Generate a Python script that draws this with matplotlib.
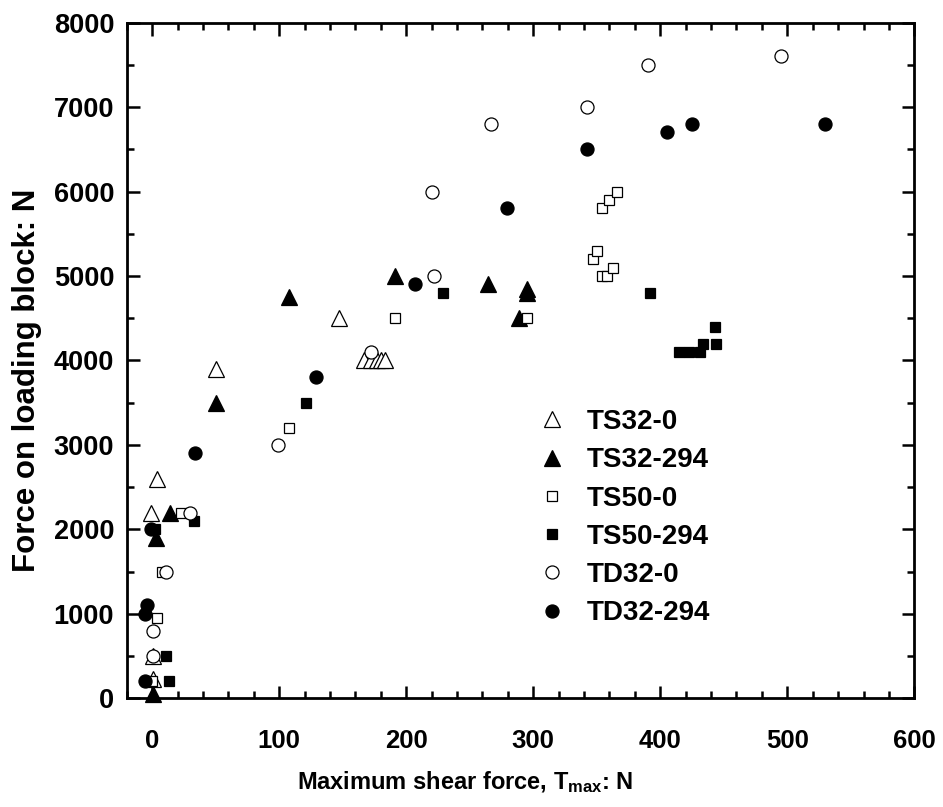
import matplotlib
matplotlib.use("Agg")
import matplotlib.pyplot as plt
from matplotlib.ticker import MultipleLocator

plt.rcParams['font.family'] = ['Liberation Sans', 'DejaVu Sans']
plt.rcParams['font.weight'] = 'bold'
plt.rcParams['mathtext.fontset'] = 'custom'
plt.rcParams['mathtext.rm'] = 'Liberation Sans'
plt.rcParams['mathtext.bf'] = 'Liberation Sans:bold'
plt.rcParams['mathtext.default'] = 'rm'

# Maximum shear force T_max (N) vs force on loading block (N)
ts32_0_x = [1, 1, -1, 4, 50, 147, 167, 172, 177, 180, 183]
ts32_0_y = [230, 500, 2200, 2600, 3900, 4500, 4000, 4000, 4000, 4000, 4000]

ts32_294_x = [1, 3, 14, 50, 108, 191, 264, 295, 295, 289]
ts32_294_y = [50, 1900, 2200, 3500, 4750, 5000, 4900, 4850, 4800, 4500]

ts50_0_x = [0, 4, 8, 23, 108, 191, 295, 347, 350, 354, 358, 363, 354, 360, 366]
ts50_0_y = [200, 950, 1500, 2200, 3200, 4500, 4500, 5200, 5300, 5000, 5000, 5100, 5800, 5900, 6000]

ts50_294_x = [13, 11, 2, 33, 121, 229, 392, 415, 423, 431, 434, 444, 443]
ts50_294_y = [200, 500, 2000, 2100, 3500, 4800, 4800, 4100, 4100, 4100, 4200, 4200, 4400]

td32_0_x = [1, 1, 11, 30, 99, 172, 222, 220, 267, 342, 390, 495]
td32_0_y = [500, 800, 1500, 2200, 3000, 4100, 5000, 6000, 6800, 7000, 7500, 7600]

td32_294_x = [-6, -6, -4, -1, 34, 129, 207, 279, 342, 405, 425, 530]
td32_294_y = [200, 1000, 1100, 2000, 2900, 3800, 4900, 5800, 6500, 6700, 6800, 6800]

series_labels = ['TS32-0', 'TS32-294', 'TS50-0', 'TS50-294', 'TD32-0', 'TD32-294']

fig = plt.figure(figsize=(9.43, 8.07), dpi=100)
ax = fig.add_axes([0.1344, 0.1347, 0.8352, 0.8372])

styles = [
    dict(marker='^', ms=11.0, mfc='white'),
    dict(marker='^', ms=11.0, mfc='black'),
    dict(marker='s', ms=7.8, mfc='white'),
    dict(marker='s', ms=7.8, mfc='black'),
    dict(marker='o', ms=9.4, mfc='white'),
    dict(marker='o', ms=9.4, mfc='black'),
]
data = [
    (ts32_0_x, ts32_0_y),
    (ts32_294_x, ts32_294_y),
    (ts50_0_x, ts50_0_y),
    (ts50_294_x, ts50_294_y),
    (td32_0_x, td32_0_y),
    (td32_294_x, td32_294_y),
]
handles = []
for (xs, ys), st, lab in zip(data, styles, series_labels):
    h, = ax.plot(xs, ys, linestyle='none', marker=st['marker'], markersize=st['ms'],
                 markerfacecolor=st['mfc'], markeredgecolor='black',
                 markeredgewidth=0.9, label=lab, clip_on=False)
    handles.append(h)

ax.set_xlim(-20, 600)
ax.set_ylim(0, 8000)
ax.xaxis.set_major_locator(MultipleLocator(100))
ax.xaxis.set_minor_locator(MultipleLocator(20))
ax.yaxis.set_major_locator(MultipleLocator(1000))
ax.yaxis.set_minor_locator(MultipleLocator(500))

for s in ax.spines.values():
    s.set_linewidth(2.0)
ax.tick_params(which='both', direction='in', top=True, right=True, width=1.8)
ax.tick_params(which='major', length=9)
ax.tick_params(which='minor', length=5)
ax.tick_params(axis='x', which='major', pad=22)
ax.tick_params(axis='y', which='major', pad=9)

for lbl in ax.get_xticklabels():
    lbl.set_fontsize(18.5)
    lbl.set_fontweight('bold')
for lbl in ax.get_yticklabels():
    lbl.set_fontsize(19.5)
    lbl.set_fontweight('bold')

ax.set_xlabel('Maximum shear force, T$_{\\mathrm{max}}$: N', fontsize=17,
              fontweight='bold')
ax.xaxis.set_label_coords(0.43, -0.105)
ax.set_ylabel('Force on loading block: N', fontsize=22.5, fontweight='bold')
ax.yaxis.set_label_coords(-0.108, 0.47)

ax.legend(handles=handles, loc='upper left', bbox_to_anchor=(0.522, 0.428),
          frameon=False, fontsize=20, numpoints=1, handlelength=1.0,
          handletextpad=0.75, labelspacing=0.44, borderpad=0, borderaxespad=0)

fig.savefig('out.png', dpi=100)
